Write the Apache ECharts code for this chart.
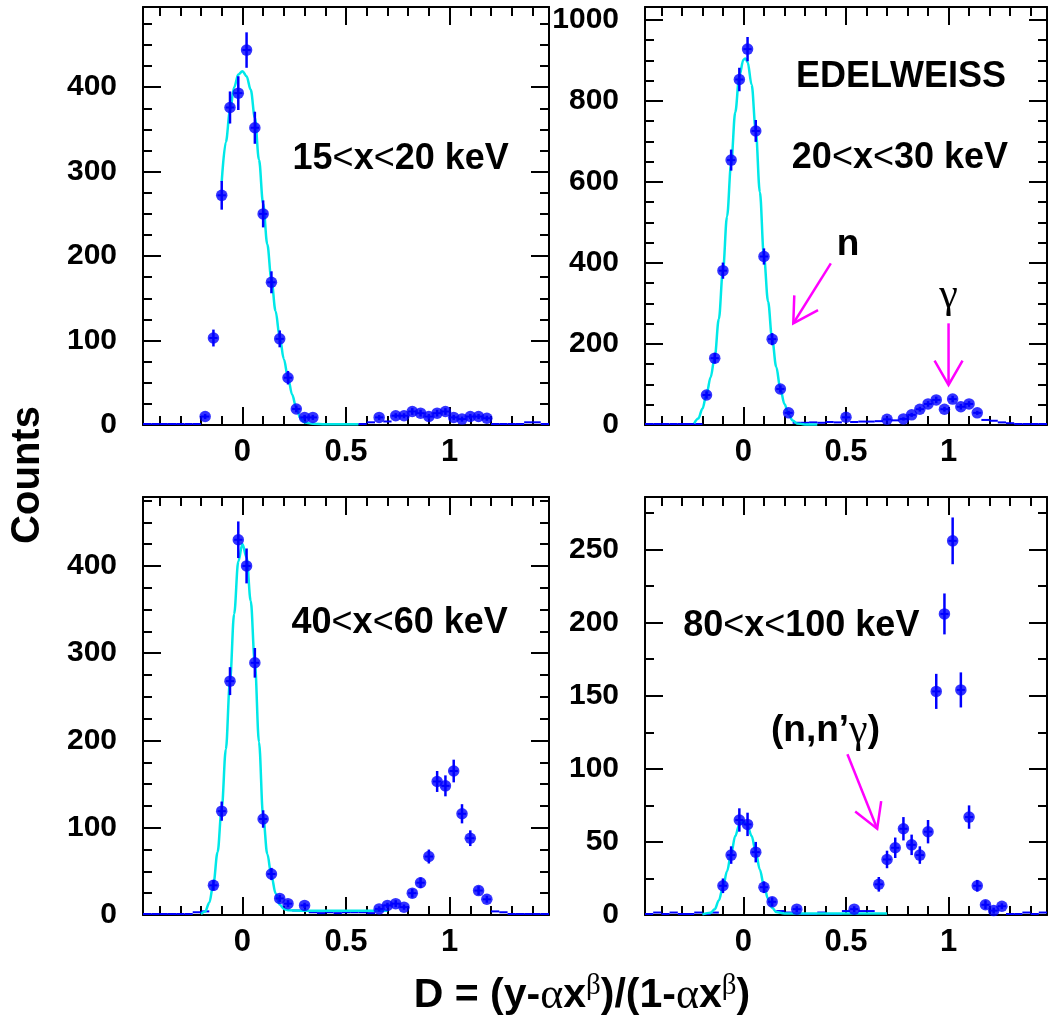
<!DOCTYPE html>
<html><head><meta charset="utf-8">
<script src="https://cdn.jsdelivr.net/npm/echarts@6/dist/echarts.min.js"></script>
<style>html,body{margin:0;padding:0;background:#fff}#c{width:1049px;height:1023px}</style>
</head><body><div id="c"></div>
<script>
// ---------- axis definitions ----------
const X_MIN = -0.48, X_MAX = 1.48;
const xMajor = [0, 0.5, 1];
const xMinor = [-0.4,-0.3,-0.2,-0.1,0.1,0.2,0.3,0.4,0.6,0.7,0.8,0.9,1.1,1.2,1.3,1.4];

const yMaxTL = 495, yMaxTR = 1032, yMaxBL = 479, yMaxBR = 286;
const yMajorTL = [0,100,200,300,400];
const yMinorTL = [25,50,75,125,150,175,225,250,275,325,350,375,425,450,475];
const yMajorTR = [0,200,400,600,800,1000];
const yMinorTR = [50,100,150,250,300,350,450,500,550,650,700,750,850,900,950];
const yMajorBL = [0,100,200,300,400];
const yMinorBL = [25,50,75,125,150,175,225,250,275,325,350,375,425,450,475];
const yMajorBR = [0,50,100,150,200,250];
const yMinorBR = [25,75,125,175,225,275];

// ---------- data: [D, counts, error] ----------
const ptsTL = [[-0.18,10,3],[-0.14,103,10],[-0.10,272,17],[-0.06,376,19],[-0.02,393,20],[0.02,444,21],
  [0.06,352,19],[0.10,250,16],[0.14,169,13],[0.18,102,10],[0.22,56,8],[0.26,19,4],[0.30,9,3],[0.34,9,3],
  [0.66,9,3],[0.74,11,3],[0.78,11,3],[0.82,16,4],[0.86,14,4],[0.90,10,3],[0.94,14,4],[0.98,16,4],
  [1.02,9,3],[1.06,7,3],[1.10,10,3],[1.14,10,3],[1.18,8,3]];
const ptsTR = [[-0.18,74,9],[-0.14,165,13],[-0.10,381,20],[-0.06,654,26],[-0.02,853,29],[0.02,928,30],
  [0.06,726,27],[0.10,416,20],[0.14,212,15],[0.18,89,9],[0.22,30,5],[0.50,19,4],[0.70,14,4],[0.78,15,4],
  [0.82,25,5],[0.86,39,6],[0.90,52,7],[0.94,62,8],[0.98,39,6],[1.02,64,8],[1.06,45,7],[1.10,52,7],[1.14,30,5]];
const ptsBL = [[-0.14,34,6],[-0.10,119,11],[-0.06,268,16],[-0.02,430,21],[0.02,400,20],[0.06,289,17],
  [0.10,110,10],[0.14,47,7],[0.18,19,4],[0.22,13,4],[0.30,11,3],[0.66,7,3],[0.70,11,3],[0.74,13,4],
  [0.78,9,3],[0.82,25,5],[0.86,37,6],[0.90,67,8],[0.94,153,12],[0.98,148,12],[1.02,165,13],[1.06,116,11],
  [1.10,88,9],[1.14,28,5],[1.18,18,4]];
const ptsBR = [[-0.10,20,5],[-0.06,41,6],[-0.02,65,8],[0.02,62,8],[0.06,43,7],[0.10,19,4],[0.14,9,3],
  [0.26,4,2],[0.54,4,2],[0.66,21,5],[0.70,38,6],[0.74,46,7],[0.78,59,8],[0.82,48,7],[0.86,41,6],
  [0.90,57,8],[0.94,153,12],[0.98,206,14],[1.02,256,16],[1.06,154,12],[1.10,67,8],[1.14,20,4],
  [1.18,7,3],[1.22,3,2],[1.26,6,2]];

// low bins drawn only as horizontal bin-width bars: [D, counts]
const lowTL = [[-0.46,0],[-0.42,0],[-0.38,0],[-0.34,0],[-0.30,0],[-0.26,0],[-0.22,0],
  [0.38,0],[0.42,0],[0.46,0],[0.50,0],[0.54,0],[0.58,0],[0.62,2],[0.70,3],
  [1.22,0],[1.26,0],[1.30,0],[1.34,0],[1.38,2],[1.42,2],[1.46,0]];
const lowTR = [[-0.46,0],[-0.42,0],[-0.38,0],[-0.34,0],[-0.30,0],[-0.26,0],[-0.22,0],
  [0.26,3],[0.30,3],[0.34,4],[0.38,3],[0.42,5],[0.46,4],[0.54,5],[0.58,6],[0.62,6],[0.66,7],[0.74,9],
  [1.18,10],[1.22,8],[1.26,4],[1.30,2],[1.34,0],[1.38,0],[1.42,0],[1.46,0]];
const lowBL = [[-0.46,0],[-0.42,0],[-0.38,0],[-0.34,0],[-0.30,0],[-0.26,0],[-0.22,2],[-0.18,3],
  [0.26,4],[0.34,2],[0.38,1],[0.42,2],[0.46,1],[0.50,2],[0.54,2],[0.58,2],[0.62,1],
  [1.22,3],[1.26,2],[1.30,0],[1.34,0],[1.38,0],[1.42,0],[1.46,0]];
const lowBR = [[-0.46,0],[-0.42,1],[-0.38,0],[-0.34,1],[-0.30,0],[-0.26,0],[-0.22,1],[-0.18,0],[-0.14,1],
  [0.18,2],[0.22,1],[0.30,0],[0.34,0],[0.38,1],[0.42,0],[0.46,0],[0.50,2],[0.58,2],[0.62,2],
  [1.30,0],[1.34,0],[1.38,1],[1.42,0],[1.46,1]];

// fitted curves: [D, counts]
const fitTL = [[-0.10,288],[-0.08,335],[-0.06,372],[-0.04,400],[-0.02,415],[0,419],[0.02,413],[0.04,397],
  [0.06,364],[0.08,314],[0.10,262],[0.12,214],[0.14,172],[0.16,135],[0.18,104],[0.20,78],[0.22,56],
  [0.24,36],[0.26,20],[0.28,8],[0.30,3],[0.34,1.5],[0.40,1],[0.56,1]];
const fitTR = [[-0.24,4],[-0.22,16],[-0.20,40],[-0.18,76],[-0.16,118],[-0.14,168],[-0.12,262],[-0.10,381],
  [-0.08,515],[-0.06,645],[-0.04,772],[-0.02,862],[0,902],[0.01,905],[0.02,896],[0.04,840],[0.06,728],
  [0.08,575],[0.10,416],[0.12,305],[0.14,212],[0.16,143],[0.18,89],[0.20,52],[0.22,26],[0.24,11],
  [0.26,4],[0.30,1.5],[0.36,1]];
const fitBL = [[-0.20,1],[-0.18,4],[-0.16,14],[-0.14,36],[-0.12,72],[-0.10,122],[-0.08,190],[-0.06,268],
  [-0.04,345],[-0.02,405],[0,425],[0.02,410],[0.04,360],[0.06,289],[0.08,198],[0.10,113],[0.12,70],
  [0.14,45],[0.16,25],[0.18,12],[0.20,7],[0.22,5.5],[0.30,5],[0.70,5]];
const fitBR = [[-0.20,0.5],[-0.16,1.5],[-0.14,4],[-0.12,10],[-0.10,19],[-0.08,30],[-0.06,42],[-0.04,54],
  [-0.02,62],[0,64],[0.02,61],[0.04,54],[0.06,43],[0.08,31],[0.10,20],[0.12,11],[0.14,5],[0.16,2],
  [0.20,1],[0.70,1]];

// annotations: panel index, D, counts
const labelTexts = ['15<x<20 keV','20<x<30 keV','40<x<60 keV','80<x<100 keV'];
const labelPos = [[0,0.764,315],[1,0.763,659],[2,0.759,334],[3,0.282,198]];
const expName = 'EDELWEISS';
const expPos = [1,0.768,859];
const nLabelPos = [1,0.51,444];
const gLabelPos = [1,1.0,318];
const nnLabelPos = [3,0.40,126];
const arrows = [[1,[0.426,399],[0.243,251]],[1,[1.0,251],[1.0,99]],[3,[0.507,110],[0.652,59]]];
const yTitle = 'Counts';

// ---------- styling ----------
const FONT = '"Liberation Sans", Arial, Helvetica, sans-serif';
const SERIF = '"Liberation Serif", "Times New Roman", serif';
const BLUE = '#0000ff', CYAN = '#00e8e8', MAG = '#ff00ff';
const grids = [
  {left:143, top:7, width:406, height:418},
  {left:645, top:7, width:402, height:418},
  {left:143, top:497, width:406, height:418},
  {left:645, top:497, width:402, height:418}
];
const panels = [
  {pts:ptsTL, low:lowTL, fit:fitTL, max:yMaxTL, maj:yMajorTL, min:yMinorTL},
  {pts:ptsTR, low:lowTR, fit:fitTR, max:yMaxTR, maj:yMajorTR, min:yMinorTR},
  {pts:ptsBL, low:lowBL, fit:fitBL, max:yMaxBL, maj:yMajorBL, min:yMinorBL},
  {pts:ptsBR, low:lowBR, fit:fitBR, max:yMaxBR, maj:yMajorBR, min:yMinorBR}
];

const lineBlack = {color:'#000', width:2};
const plain = v => String(v);
function mkX(g){
  const base = {gridIndex:g, type:'value', min:X_MIN, max:X_MAX, splitLine:{show:false},
    axisLabel:{show:false}, axisLine:{show:false, onZero:false}};
  return [
    Object.assign({}, base, {position:'bottom', axisLine:{show:true,onZero:false,lineStyle:lineBlack},
      axisTick:{show:true,inside:true,length:18,customValues:xMajor,lineStyle:lineBlack},
      axisLabel:{show:true,customValues:xMajor,margin:12,fontSize:31,fontWeight:'bold',fontFamily:FONT,color:'#000',formatter:plain}}),
    Object.assign({}, base, {position:'bottom', axisTick:{show:true,inside:true,length:9,customValues:xMinor,lineStyle:lineBlack}}),
    Object.assign({}, base, {position:'top', axisLine:{show:true,onZero:false,lineStyle:lineBlack},
      axisTick:{show:true,inside:true,length:18,customValues:xMajor,lineStyle:lineBlack}}),
    Object.assign({}, base, {position:'top', axisTick:{show:true,inside:true,length:9,customValues:xMinor,lineStyle:lineBlack}})
  ];
}
function mkY(g){
  const p = panels[g];
  const base = {gridIndex:g, type:'value', min:0, max:p.max, splitLine:{show:false},
    axisLabel:{show:false}, axisLine:{show:false, onZero:false}};
  return [
    Object.assign({}, base, {position:'left', axisLine:{show:true,onZero:false,lineStyle:lineBlack},
      axisTick:{show:true,inside:true,length:18,customValues:p.maj,lineStyle:lineBlack},
      axisLabel:{show:true,customValues:p.maj,margin:26,fontSize:30,fontWeight:'bold',fontFamily:FONT,color:'#000',formatter:plain}}),
    Object.assign({}, base, {position:'left', axisTick:{show:true,inside:true,length:9,customValues:p.min,lineStyle:lineBlack}}),
    Object.assign({}, base, {position:'right', axisLine:{show:true,onZero:false,lineStyle:lineBlack},
      axisTick:{show:true,inside:true,length:18,customValues:p.maj,lineStyle:lineBlack}}),
    Object.assign({}, base, {position:'right', axisTick:{show:true,inside:true,length:9,customValues:p.min,lineStyle:lineBlack}})
  ];
}

function lowRender(params, api){
  const d = api.value(0), v = api.value(1);
  const a = api.coord([d-0.02, v]), b = api.coord([d+0.02, v]);
  return {type:'line', shape:{x1:a[0], y1:a[1]-1, x2:b[0], y2:b[1]-1}, style:{stroke:BLUE, lineWidth:2}};
}
function errRender(params, api){
  const d = api.value(0), v = api.value(1), e = api.value(2);
  const lo = api.coord([d, Math.max(0, v-e)]), hi = api.coord([d, v+e]);
  const a = api.coord([d-0.02, v]), b = api.coord([d+0.02, v]);
  return {type:'group', children:[
    {type:'line', shape:{x1:lo[0],y1:lo[1],x2:hi[0],y2:hi[1]}, style:{stroke:BLUE,lineWidth:2.5}},
    {type:'line', shape:{x1:a[0],y1:a[1],x2:b[0],y2:b[1]}, style:{stroke:BLUE,lineWidth:2}}
  ]};
}

const xAxis = [], yAxis = [], series = [];
for (let g=0; g<4; g++){
  xAxis.push(...mkX(g)); yAxis.push(...mkY(g));
  const p = panels[g], xi = 4*g, yi = 4*g;
  series.push({type:'custom', xAxisIndex:xi, yAxisIndex:yi, data:p.low, renderItem:lowRender, z:2, silent:true});
  series.push({type:'line', xAxisIndex:xi, yAxisIndex:yi, data:p.fit, smooth:0.35, smoothMonotone:'x',
    showSymbol:false, lineStyle:{color:CYAN, width:2.5}, z:3, silent:true});
  series.push({type:'custom', xAxisIndex:xi, yAxisIndex:yi, data:p.pts, renderItem:errRender, z:4, silent:true});
  series.push({type:'scatter', xAxisIndex:xi, yAxisIndex:yi, data:p.pts.map(q=>[q[0],q[1]]),
    symbol:'circle', symbolSize:11.5, itemStyle:{color:BLUE}, z:5, silent:true});
}

const chart = echarts.init(document.getElementById('c'), null, {renderer:'canvas'});
chart.setOption({animation:false, backgroundColor:'#fff', grid:grids, xAxis, yAxis, series});

function px(g, d, v){ return chart.convertToPixel({seriesIndex:4*g+3}, [d, v]); }
const richPanel = {
  b:{fontSize:36, fontWeight:'bold', fontFamily:FONT, fill:'#000'},
  l:{fontSize:36, fontWeight:'normal', fontFamily:FONT, fill:'#000'}
};
function panelRich(t){ return t.split('<').map(s=>'{b|'+s+'}').join('{l|<}'); }
const graphics = [];
labelPos.forEach((lp, i)=>{
  const q = px(lp[0], lp[1], lp[2]);
  graphics.push({type:'text', x:q[0], y:q[1], style:{text:panelRich(labelTexts[i]), rich:richPanel, align:'center', verticalAlign:'middle'}});
});
let q = px(expPos[0], expPos[1], expPos[2]);
graphics.push({type:'text', x:q[0], y:q[1], style:{text:expName, font:'bold 36px '+FONT, fill:'#000', align:'center', verticalAlign:'middle'}});
q = px(nLabelPos[0], nLabelPos[1], nLabelPos[2]);
graphics.push({type:'text', x:q[0], y:q[1], style:{text:'n', font:'bold 37px '+FONT, fill:'#000', align:'center', verticalAlign:'middle'}});
q = px(gLabelPos[0], gLabelPos[1], gLabelPos[2]);
graphics.push({type:'text', x:q[0], y:q[1], style:{text:'γ', font:'normal 42px '+SERIF, fill:'#000', align:'center', verticalAlign:'middle'}});
q = px(nnLabelPos[0], nnLabelPos[1], nnLabelPos[2]);
graphics.push({type:'text', x:q[0], y:q[1], style:{text:'{b|(n,n’}{g|γ}{b|)}', align:'center', verticalAlign:'middle',
  rich:{b:{fontSize:37,fontWeight:'bold',fontFamily:FONT,fill:'#000'}, g:{fontSize:42,fontWeight:'normal',fontFamily:SERIF,fill:'#000'}}}});
arrows.forEach(ar=>{
  const a = px(ar[0], ar[1][0], ar[1][1]), b = px(ar[0], ar[2][0], ar[2][1]);
  const ang = Math.atan2(a[1]-b[1], a[0]-b[0]), L = 28, da = Math.PI/6;
  const p1 = [b[0]+L*Math.cos(ang+da), b[1]+L*Math.sin(ang+da)];
  const p2 = [b[0]+L*Math.cos(ang-da), b[1]+L*Math.sin(ang-da)];
  graphics.push({type:'line', shape:{x1:a[0],y1:a[1],x2:b[0],y2:b[1]}, style:{stroke:MAG, lineWidth:2.5}, z:10});
  graphics.push({type:'polyline', shape:{points:[p1,b,p2]}, style:{stroke:MAG, lineWidth:2.5, fill:null}, z:10});
});
// axis titles
graphics.push({type:'text', x:28, y:475, rotation:Math.PI/2, style:{text:yTitle, font:'bold 40px '+FONT, fill:'#000', align:'center', verticalAlign:'middle'}});
graphics.push({type:'text', x:582, y:996, style:{
  text:'{b|D = (y-}{a|α}{b|x}{s|β}{b|)/(1-}{a|α}{b|x}{s|β}{b|)}', align:'center', verticalAlign:'middle',
  rich:{
    b:{fontSize:41, fontWeight:'bold', fontFamily:FONT, fill:'#000', lineHeight:48},
    a:{fontSize:44, fontWeight:'normal', fontFamily:SERIF, fill:'#000', lineHeight:48},
    s:{fontSize:29, fontWeight:'normal', fontFamily:SERIF, fill:'#000', lineHeight:20, verticalAlign:'top'}
  }}});
chart.setOption({graphic:graphics});
</script></body></html>
